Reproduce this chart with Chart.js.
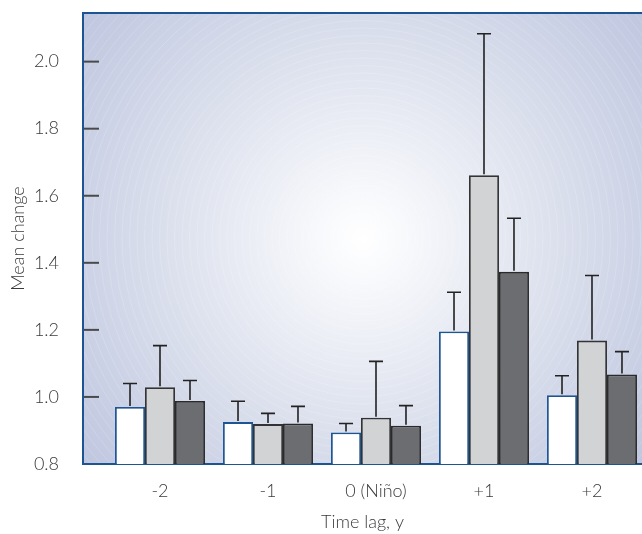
<!DOCTYPE html>
<html>
<head>
<meta charset="utf-8">
<script src="https://cdn.jsdelivr.net/npm/chart.js@4/dist/chart.umd.min.js"></script>
<style>
  html, body { margin: 0; padding: 0; background: #fff; overflow: hidden; }
  #wrap { width: 642px; height: 534px; position: relative; }
</style>
</head>
<body>
<div id="wrap"><canvas id="lagChart"></canvas></div>
<script>
// categories (x positions 0..4)
const lagLabels = ["-2", "-1", "0 (Niño)", "+1", "+2"]

// bar heights
const whiteMeans = [0.970, 0.925, 0.894, 1.195, 1.005]
const lightMeans = [1.029, 0.919, 0.938, 1.661, 1.168]
const darkMeans = [0.988, 0.921, 0.914, 1.373, 1.067]

// upper end of each error bar
const whiteUpper = [1.040, 0.987, 0.921, 1.312, 1.063]
const lightUpper = [1.153, 0.951, 1.106, 2.083, 1.362]
const darkUpper = [1.049, 0.972, 0.974, 1.533, 1.135]

const yTicks = [0.8, 1.0, 1.2, 1.4, 1.6, 1.8, 2.0]

const axisBlue = "#1d5493"
const textColor = "#3a3a3a"
const labelFont = { family: "Lato, 'Open Sans', sans-serif", size: 18, weight: 300 }

function toPoints(values) {
  return values.map((v, i) => ({ x: i, y: v }))
}

// radial gradient + faint rings behind the bars
const backdrop = {
  id: "backdrop",
  beforeDraw(chart) {
    const { ctx, chartArea: a } = chart
    const cx = a.left + (a.right - a.left) * 0.5
    const cy = a.top + (a.bottom - a.top) * 0.5
    const r = 375
    ctx.save()
    ctx.beginPath()
    ctx.rect(a.left, a.top, a.right - a.left, a.bottom - a.top)
    ctx.clip()
    const g = ctx.createRadialGradient(cx, cy, 0, cx, cy, r)
    g.addColorStop(0, "#ffffff")
    g.addColorStop(0.08, "#fafbfd")
    g.addColorStop(0.45, "#e0e4ef")
    g.addColorStop(1, "#bcc4de")
    ctx.fillStyle = g
    ctx.fillRect(a.left, a.top, a.right - a.left, a.bottom - a.top)
    ctx.strokeStyle = "rgba(255,255,255,0.22)"
    ctx.lineWidth = 0.7
    for (let rr = 8; rr < 420; rr += 7.5) {
      ctx.beginPath()
      ctx.arc(cx, cy, rr, 0, Math.PI * 2)
      ctx.stroke()
    }
    ctx.restore()
  },
  afterDraw(chart) {
    const { ctx, chartArea: a, scales } = chart
    ctx.save()
    // top frame line
    ctx.strokeStyle = axisBlue
    ctx.lineWidth = 2
    ctx.beginPath()
    ctx.moveTo(a.left - 1, a.top)
    ctx.lineTo(a.right, a.top)
    ctx.stroke()
    // inward tick marks on the y axis
    ctx.strokeStyle = "#4a4a4a"
    ctx.lineWidth = 2
    scales.y.ticks.forEach((t) => {
      if (t.value <= scales.y.min) return
      const py = scales.y.getPixelForValue(t.value)
      ctx.beginPath()
      ctx.moveTo(a.left + 1, py)
      ctx.lineTo(a.left + 16, py)
      ctx.stroke()
    })
    ctx.restore()
  },
}

// one-sided (upper) error bars
const upperErrors = [whiteUpper, lightUpper, darkUpper]
const errorBars = {
  id: "errorBars",
  afterDatasetsDraw(chart) {
    const { ctx, scales } = chart
    ctx.save()
    ctx.strokeStyle = "#222222"
    ctx.lineWidth = 1.6
    chart.data.datasets.forEach((ds, di) => {
      const meta = chart.getDatasetMeta(di)
      meta.data.forEach((bar, i) => {
        const top = scales.y.getPixelForValue(upperErrors[di][i])
        ctx.beginPath()
        ctx.moveTo(bar.x, bar.y - 1)
        ctx.lineTo(bar.x, top)
        ctx.moveTo(bar.x - 7, top)
        ctx.lineTo(bar.x + 7, top)
        ctx.stroke()
      })
    })
    ctx.restore()
  },
}

new Chart(document.getElementById("lagChart"), {
  type: "bar",
  data: {
    datasets: [
      {
        data: toPoints(whiteMeans),
        backgroundColor: "#ffffff",
        borderColor: axisBlue,
        borderWidth: 1.8,
      },
      {
        data: toPoints(lightMeans),
        backgroundColor: "#d2d3d5",
        borderColor: "#333333",
        borderWidth: 1.8,
      },
      {
        data: toPoints(darkMeans),
        backgroundColor: "#6c6d71",
        borderColor: "#2a2a2a",
        borderWidth: 1.8,
      },
    ],
  },
  options: {
    responsive: true,
    maintainAspectRatio: false,
    animation: false,
    layout: { padding: 0 },
    categoryPercentage: 0.833,
    barPercentage: 1.0,
    plugins: {
      legend: { display: false },
      tooltip: { enabled: false },
    },
    scales: {
      x: {
        type: "linear",
        offset: false,
        min: -0.713,
        max: 4.463,
        afterFit: (s) => {
          s.height = 70
          s.paddingLeft = 0
          s.paddingRight = 0
        },
        grid: { display: false },
        border: { display: true, color: axisBlue, width: 2 },
        ticks: {
          stepSize: 1,
          includeBounds: false,
          autoSkip: false,
          maxRotation: 0,
          padding: 8,
          color: textColor,
          font: labelFont,
          callback: (v) => (Number.isInteger(v) && lagLabels[v] !== undefined ? lagLabels[v] : ""),
        },
        title: {
          display: true,
          text: "Time lag, y",
          color: textColor,
          font: labelFont,
          padding: { top: 0, bottom: 1 },
        },
      },
      y: {
        min: yTicks[0],
        max: 2.145,
        afterFit: (s) => {
          s.width = 83
          s.paddingTop = 13
          s.paddingBottom = 0
        },
        grid: { display: false },
        border: { display: true, color: axisBlue, width: 2 },
        afterBuildTicks: (s) => { s.ticks = yTicks.map((v) => ({ value: v })) },
        ticks: {
          padding: 16,
          color: textColor,
          font: labelFont,
          callback: (v) => v.toFixed(1),
        },
        title: {
          display: true,
          text: "Mean change",
          color: textColor,
          font: labelFont,
          padding: { top: 7, bottom: 0 },
        },
      },
    },
  },
  plugins: [backdrop, errorBars],
})
</script>
</body>
</html>
